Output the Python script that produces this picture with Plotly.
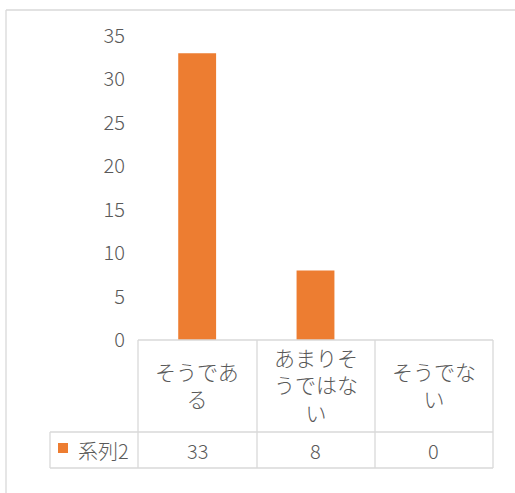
import plotly.graph_objects as go

categories = ["そうである", "あまりそうではない", "そうでない"]
category_labels = ["そうであ<br>る", "あまりそ<br>うではな<br>い", "そうでな<br>い"]
series_name = "系列2"
values = [33, 8, 0]
y_ticks = [0, 5, 10, 15, 20, 25, 30, 35]

W, H = 515, 493
FONT = "Noto Sans CJK JP"
TXT = "#595959"
GRID = "#d9d9d9"
ORANGE = "#ED7D31"
WEIGHT = 300

def px(x):
    return x / W

def py(y):
    return 1 - y / H

plot_left, plot_right = 138, 493
plot_top, plot_bottom = 36, 340
hdr_bottom, row_bottom = 432, 468
legend_left = 50

fig = go.Figure()
fig.add_trace(go.Bar(x=list(range(len(categories))), y=values, name=series_name,
                     marker=dict(color=ORANGE, line=dict(width=0)), width=0.32,
                     hoverinfo="y"))

fig.update_layout(
    width=W, height=H, autosize=False,
    margin=dict(l=0, r=0, t=0, b=0, pad=0, autoexpand=False),
    paper_bgcolor="white", plot_bgcolor="white",
    showlegend=False,
    font=dict(family=FONT, color=TXT, size=20, weight=WEIGHT),
    xaxis=dict(domain=[px(plot_left), px(plot_right)], range=[-0.5, len(categories) - 0.5],
               showticklabels=False, showgrid=False, zeroline=False, ticks="",
               automargin=False, fixedrange=True),
    yaxis=dict(domain=[py(plot_bottom), py(plot_top)], range=[0, 35], tickvals=y_ticks,
               showgrid=False, zeroline=False, ticks="", ticklabelstandoff=12,
               automargin=False,
               tickfont=dict(family=FONT, size=20, color=TXT, weight=WEIGHT), fixedrange=True),
)

shapes = []
def line(x0, y0, x1, y1):
    shapes.append(dict(type="line", xref="paper", yref="paper",
                       x0=px(x0), y0=py(y0), x1=px(x1), y1=py(y1),
                       line=dict(color=GRID, width=1.3)))

# chart border (top & left visible)
line(6, 10, 515, 10)
line(6, 10, 6, 493)
# data table
line(plot_left, plot_bottom, plot_right, plot_bottom)
line(legend_left, hdr_bottom, plot_right, hdr_bottom)
line(legend_left, row_bottom, plot_right, row_bottom)
line(legend_left, hdr_bottom, legend_left, row_bottom)
col_edges = [138, 257, 375, 493]
for xe in col_edges:
    line(xe, plot_bottom, xe, row_bottom)
fig.update_layout(shapes=shapes)

ann = []
for i, lab in enumerate(category_labels):
    ann.append(dict(x=i, xref="x", y=py((plot_bottom + hdr_bottom) / 2 - 2), yref="paper",
                    text=lab, showarrow=False, xanchor="center", yanchor="middle",
                    font=dict(family=FONT, size=21, color=TXT, weight=WEIGHT), align="center"))
    ann.append(dict(x=i, xref="x", y=py((hdr_bottom + row_bottom) / 2), yref="paper",
                    text=str(values[i]), showarrow=False, xanchor="center", yanchor="middle",
                    font=dict(family=FONT, size=20, color=TXT, weight=WEIGHT)))
ann.append(dict(x=px(76), xref="paper", y=py((hdr_bottom + row_bottom) / 2), yref="paper",
                text=series_name, showarrow=False, xanchor="left", yanchor="middle",
                font=dict(family=FONT, size=20, color=TXT, weight=WEIGHT)))
fig.update_layout(annotations=ann)
fig.add_shape(type="rect", xref="paper", yref="paper",
              x0=px(58), x1=px(68), y0=py(443), y1=py(453),
              fillcolor=ORANGE, line=dict(width=0))

fig.write_html("out.html", config={"displayModeBar": False},
               post_script="document.body.style.margin='0';")
